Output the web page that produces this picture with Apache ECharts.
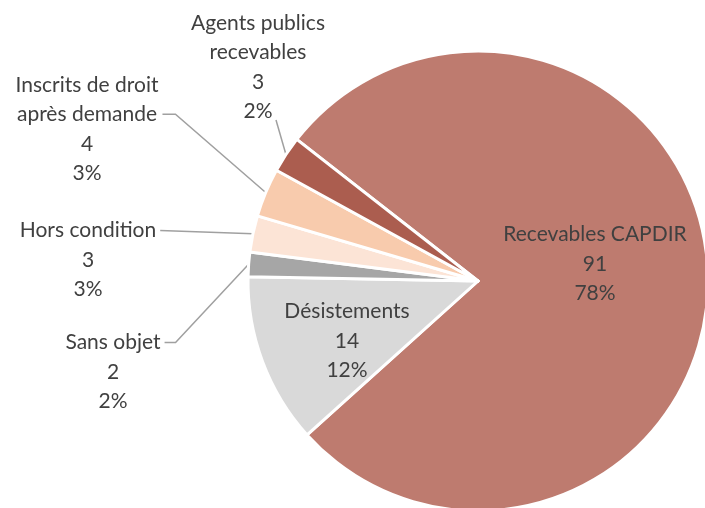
<!DOCTYPE html>
<html>
<head>
<meta charset="utf-8">
<script src="https://cdn.jsdelivr.net/npm/echarts@6/dist/echarts.min.js"></script>
<style>
  html, body { margin: 0; padding: 0; background: #fff; }
  #chart { width: 705px; height: 508px; }
</style>
</head>
<body>
<div id="chart"></div>
<script>
// data
const categories = ['Recevables CAPDIR', 'Désistements', 'Sans objet', 'Hors condition',
  'Inscrits de droit\naprès demande', 'Agents publics\nrecevables'];
const counts = [91, 14, 2, 3, 4, 3];
const pctLabels = ['78%', '12%', '2%', '3%', '3%', '2%'];

const colors = ['#BE7B6F', '#D9D9D9', '#A6A6A6', '#FCE4D6', '#F8CBAD', '#AB5D4F'];

// where each label sits (center of text block) and how its leader line attaches
const LH = 29.5;
const labelPos = [
  { x: 595, y: 264, inside: true },
  { x: 347, y: 341, inside: true },
  { x: 113, y: 372, line: 0, elbow: 11 },
  { x: 88, y: 260, line: 0, elbow: 0 },
  { x: 87, y: 129, line: 1, elbow: 13 },
  { x: 258, y: 67, below: true }
];

const chart = echarts.init(document.getElementById('chart'));

chart.setOption({
  backgroundColor: '#fff',
  animation: false,
  series: [{
    type: 'pie',
    center: [478, 281],
    radius: 230,
    startAngle: 142,
    clockwise: true,
    avoidLabelOverlap: false,
    itemStyle: { borderColor: '#fff', borderWidth: 3 },
    label: {
      show: true,
      position: 'outside',
      color: '#404040',
      fontFamily: 'Lato, "Open Sans", sans-serif',
      fontSize: 21,
      lineHeight: LH,
      align: 'center',
      formatter: (p) => `${p.name}\n${p.value}\n${pctLabels[p.dataIndex]}`
    },
    labelLine: {
      show: true,
      lineStyle: { color: '#A0A0A0', width: 1.5 }
    },
    labelLayout: (params) => {
      const cfg = labelPos[params.dataIndex];
      const out = { x: cfg.x, y: cfg.y, align: 'center', verticalAlign: 'middle' };
      if (cfg.inside) return out;
      const w = params.labelRect.width;
      const h = params.labelRect.height;
      const start = params.labelLinePoints[0];
      let end;
      let mid;
      if (cfg.below) {
        end = [cfg.x + 18, cfg.y + h / 2 - 6];
        mid = end;
      } else {
        const ly = cfg.y - h / 2 + (cfg.line + 0.5) * LH;
        end = [cfg.x + w / 2 + 4, ly];
        mid = [end[0] + cfg.elbow, ly];
      }
      out.labelLinePoints = [start, mid, end];
      return out;
    },
    data: categories.map((name, i) => ({
      name,
      value: counts[i],
      itemStyle: { color: colors[i] },
      labelLine: { show: !labelPos[i].inside }
    }))
  }]
});
</script>
</body>
</html>
